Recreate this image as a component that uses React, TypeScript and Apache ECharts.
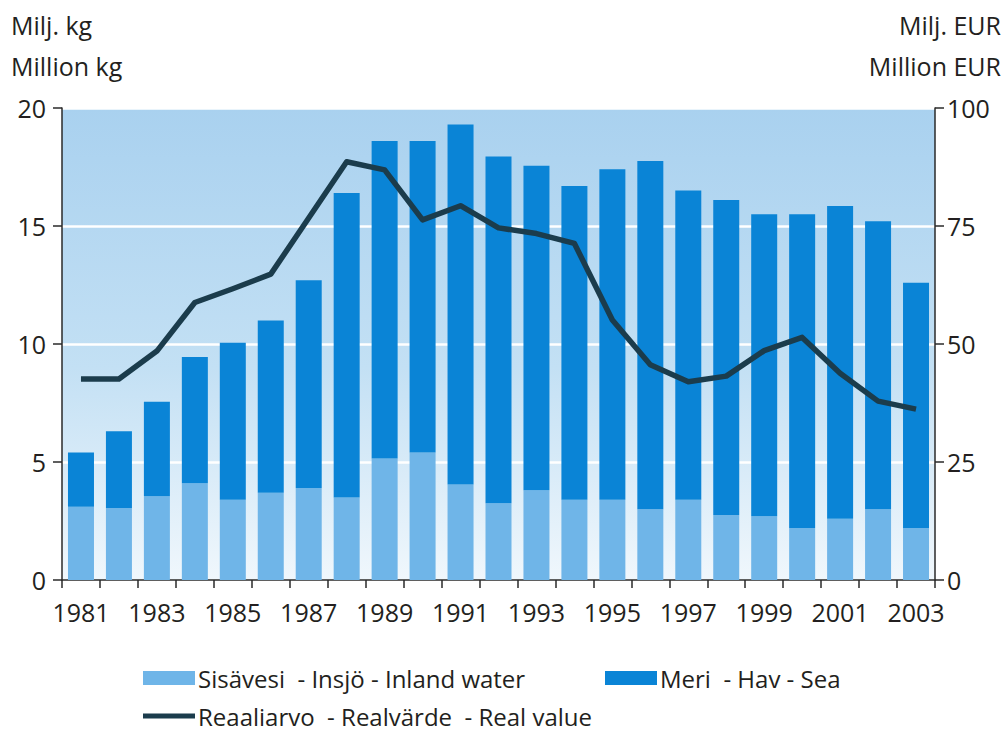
import React, { useEffect, useRef } from "react";
import * as echarts from "echarts";

const years = ["1981","1982","1983","1984","1985","1986","1987","1988","1989","1990","1991","1992","1993","1994","1995","1996","1997","1998","1999","2000","2001","2002","2003"];
const inland = [3.1,3.05,3.55,4.1,3.4,3.7,3.9,3.5,5.15,5.4,4.05,3.25,3.8,3.4,3.4,3.0,3.4,2.75,2.7,2.2,2.6,3.0,2.2];
const totals = [5.4,6.3,7.55,9.45,10.05,11.0,12.7,16.4,18.6,18.6,19.3,17.95,17.55,16.7,17.4,17.75,16.5,16.1,15.5,15.5,15.85,15.2,12.6];
const sea = totals.map((t, i) => Math.round((t - inland[i]) * 100) / 100);
const realValue = [42.6,42.6,48.5,58.8,61.7,64.8,76.7,88.6,86.9,76.3,79.3,74.6,73.4,71.3,55.1,45.6,42.0,43.2,48.6,51.4,43.8,37.9,36.2];
const leftTicks = { min: 0, max: 20, interval: 5 };
const rightTicks = { min: 0, max: 100, interval: 25 };

const nameInland = "Sisävesi  - Insjö - Inland water";
const nameSea = "Meri  - Hav - Sea";
const nameLine = "Reaaliarvo  - Realvärde  - Real value";

const FONT = "'Open Sans', 'Noto Sans', sans-serif";
const TXT = "#231f20";

export default function App() {
  const ref = useRef<HTMLDivElement>(null);
  useEffect(() => {
    if (!ref.current) return;
    const chart = echarts.init(ref.current, null, { renderer: "svg" });
    const legendCommon = {
      orient: "horizontal",
      itemWidth: 52,
      itemHeight: 14,
      itemGap: 0,
      padding: 0,
      textStyle: { fontFamily: FONT, fontSize: 24, lineHeight: 22, color: TXT, padding: [0, 0, 0, -2] },
      selectedMode: false,
    };
    chart.setOption({
      animation: false,
      backgroundColor: "#ffffff",
      textStyle: { fontFamily: FONT },
      grid: {
        left: 62, right: 72, top: 108, bottom: 153,
        show: true, borderWidth: 0,
        backgroundColor: new echarts.graphic.LinearGradient(0, 0, 0, 1, [
          { offset: 0, color: "#a9d1ef" },
          { offset: 0.55, color: "#c3e0f4" },
          { offset: 1, color: "#f0f7fc" },
        ]),
      },
      legend: [
        { ...legendCommon, left: 143, top: 666, data: [{ name: nameInland, icon: "rect" }] },
        { ...legendCommon, left: 605, top: 666, data: [{ name: nameSea, icon: "rect" }] },
        { ...legendCommon, left: 143, top: 704, itemHeight: 5, data: [{ name: nameLine, icon: "rect" }] },
      ],
      graphic: [
        { type: "text", left: 11, top: 12, style: { text: "Milj. kg", font: `25px ${FONT}`, fill: TXT } },
        { type: "text", left: 11, top: 53, style: { text: "Million kg", font: `25px ${FONT}`, fill: TXT } },
        { type: "text", right: 6, top: 12, style: { text: "Milj. EUR", font: `25px ${FONT}`, fill: TXT } },
        { type: "text", right: 6, top: 53, style: { text: "Million EUR", font: `25px ${FONT}`, fill: TXT } },
      ],
      xAxis: {
        type: "category",
        data: years,
        boundaryGap: true,
        axisLine: { lineStyle: { color: "#2a2a2a", width: 1.5 } },
        axisTick: { show: true, length: 8, interval: 0, alignWithLabel: false, lineStyle: { color: "#2a2a2a", width: 1.5 } },
        axisLabel: { interval: 1, margin: 19, fontSize: 25, color: TXT, fontFamily: FONT },
      },
      yAxis: [
        {
          type: "value", ...leftTicks,
          axisLine: { show: true, lineStyle: { color: "#2a2a2a", width: 1.5 } },
          axisTick: { show: true, length: 9, lineStyle: { color: "#2a2a2a", width: 1.5 } },
          axisLabel: { fontSize: 25, color: TXT, fontFamily: FONT, margin: 16 },
          splitLine: { show: true, lineStyle: { color: "#ffffff", width: 2.5 } },
        },
        {
          type: "value", ...rightTicks, position: "right",
          axisLine: { show: true, lineStyle: { color: "#2a2a2a", width: 1.5 } },
          axisTick: { show: true, length: 9, lineStyle: { color: "#2a2a2a", width: 1.5 } },
          axisLabel: { fontSize: 25, color: TXT, fontFamily: FONT, margin: 12 },
          splitLine: { show: false },
        },
      ],
      series: [
        {
          name: nameInland, type: "bar", stack: "v", data: inland, barWidth: 26,
          itemStyle: { color: "#6fb5e8" },
        },
        {
          name: nameSea, type: "bar", stack: "v", data: sea, barWidth: 26,
          itemStyle: { color: "#0a84d6" },
        },
        {
          name: nameLine, type: "line", yAxisIndex: 1, data: realValue,
          showSymbol: false, symbol: "none",
          lineStyle: { color: "#1b3c4c", width: 5.5, join: "round" },
          itemStyle: { color: "#1b3c4c" },
        },
      ],
    });
    return () => chart.dispose();
  }, []);
  return <div ref={ref} style={{ position: "fixed", left: 0, top: 0, width: 1007, height: 733 }} />;
}
